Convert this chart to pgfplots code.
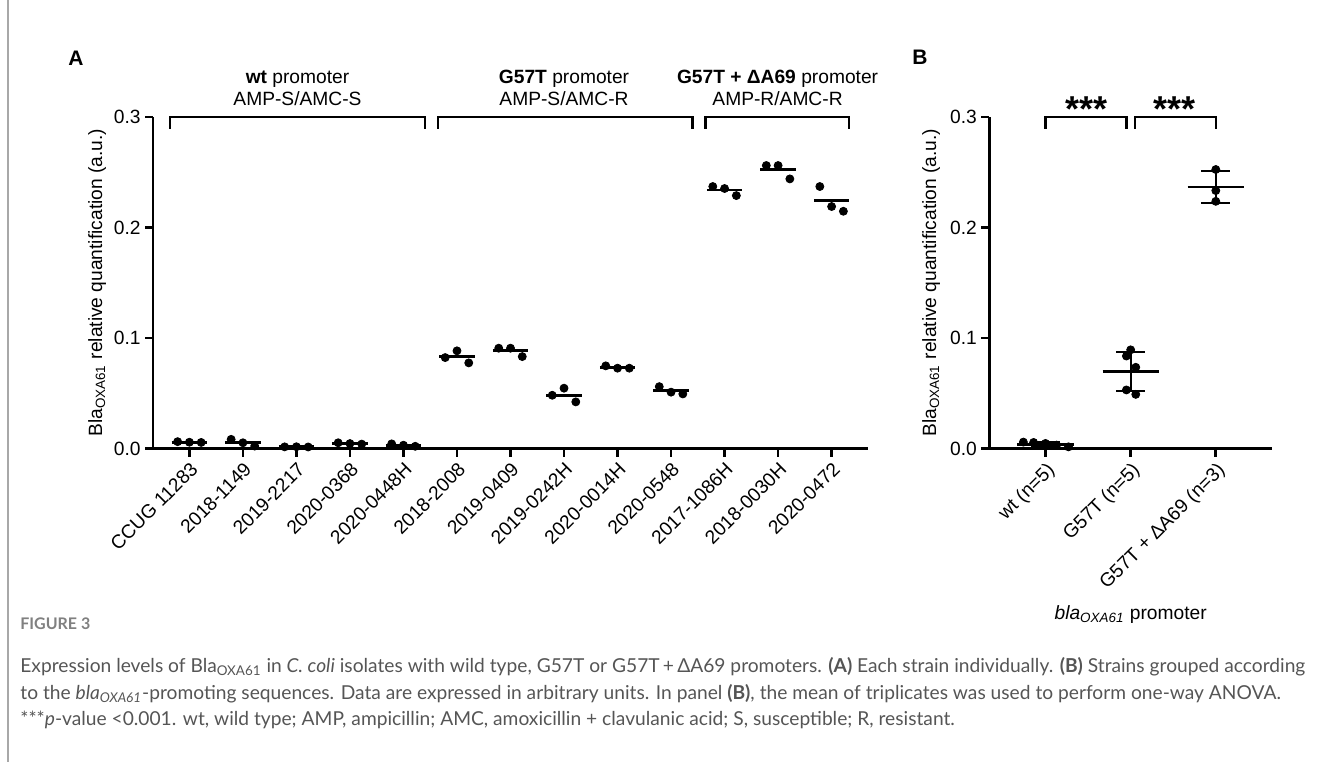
\documentclass[border=0pt]{standalone}
\usepackage{graphicx}
\usepackage{pgfplots}
\pgfplotsset{compat=1.18}
\usepackage{fontspec}
\setmainfont{Liberation Sans}
\newfontfamily\capfont{Lato}
\definecolor{capgray}{HTML}{555555}
\definecolor{figgray}{HTML}{808080}
\definecolor{bordergray}{HTML}{A8A8A8}
\newlength\capw
\newcommand\bla{Bla\textsubscript{OXA61}}
\newcommand\lfont{\fontsize{9.6}{11}\selectfont}
\newcommand\capsize{\fontsize{9.6}{10}\selectfont}
\newcommand\lineone{Expression levels of Bla\textsubscript{OXA61} in \textit{C. coli} isolates with wild type, G57T or G57T\,+\,ΔA69 promoters. \textbf{(A)} Each strain individually. \textbf{(B)} Strains grouped according}

\pgfplotsset{
  panel/.style={
    scale only axis,
    axis lines=left,
    axis line style={-, line width=1.4pt},
    ymin=0, ymax=0.3,
    ytick={0,0.1,0.2,0.3},
    /pgf/number format/assume math mode=true,
    yticklabel style={/pgf/number format/fixed, /pgf/number format/fixed zerofill, /pgf/number format/precision=1, font=\lfont, inner sep=2pt},
    tick align=outside,
    major tick length=4pt,
    every tick/.style={line width=1.4pt, black},
    xticklabel style={rotate=45, anchor=north east, font=\lfont, inner sep=1.5pt},
    ylabel style={font=\lfont, anchor=center},
    clip=false,
  }
}

\begin{document}%
\settowidth\capw{\capfont\capsize\lineone}%
\pgfmathsetmacro\capfac{642.5/\capw}%
\begin{tikzpicture}
\useasboundingbox (0,0) rectangle (660.5pt,-381pt);
\draw[bordergray, line width=0.8pt] (4pt,0) -- (4pt,-381pt);

% ---------------- Panel A ----------------
\node[font=\fontsize{10.5}{12}\selectfont\bfseries] at (38pt,-29pt) {A};
\begin{axis}[panel,
  at={(76.5pt,-224.25pt)}, anchor=south west,
  width=357.5pt, height=165.75pt,
  xmin=-0.68, xmax=12.68,
  xtick={0,...,12},
  xticklabels={CCUG 11283,2018-1149,2019-2217,2020-0368,2020-0448H,2018-2008,2019-0409,2019-0242H,2020-0014H,2020-0548,2017-1086H,2018-0030H,2020-0472},
  ylabel={\bla{} relative quantification (a.u.)},
  ylabel style={at={(axis description cs:-0.078,0.5)}},
]
\addplot[only marks, mark=*, mark size=2pt, black] table {
x y
-0.22 0.0062
0.00 0.0057
0.22 0.0055
0.78 0.0083
1.00 0.0052
1.22 0.0022
1.78 0.0015
2.00 0.0016
2.22 0.0014
2.78 0.0052
3.00 0.0045
3.22 0.0040
3.78 0.0042
4.00 0.0030
4.22 0.0020
4.78 0.0823
5.00 0.0884
5.22 0.0775
5.78 0.0908
6.00 0.0908
6.22 0.0832
6.78 0.0482
7.00 0.0546
7.22 0.0422
7.78 0.0748
8.00 0.0727
8.22 0.0727
8.78 0.0560
9.00 0.0510
9.22 0.0494
9.78 0.2371
10.00 0.2353
10.22 0.2289
10.78 0.2561
11.00 0.2561
11.22 0.2440
11.78 0.2371
12.00 0.2190
12.22 0.2147
};
\addplot[black, line width=1.4pt, unbounded coords=jump] table {
x y
-0.33 0.0056
0.33 0.0056
nan nan
0.67 0.0053
1.33 0.0053
nan nan
1.67 0.0015
2.33 0.0015
nan nan
2.67 0.0046
3.33 0.0046
nan nan
3.67 0.0030
4.33 0.0030
nan nan
4.67 0.0830
5.33 0.0830
nan nan
5.67 0.0884
6.33 0.0884
nan nan
6.67 0.0483
7.33 0.0483
nan nan
7.67 0.0736
8.33 0.0736
nan nan
8.67 0.0524
9.33 0.0524
nan nan
9.67 0.2340
10.33 0.2340
nan nan
10.67 0.2522
11.33 0.2522
nan nan
11.67 0.2244
12.33 0.2244
};
% group brackets
\draw[line width=1.2pt] (axis cs:-0.36,0.2895) |- (axis cs:4.40,0.3) -- (axis cs:4.40,0.2895);
\draw[line width=1.2pt] (axis cs:4.64,0.2895) |- (axis cs:9.40,0.3) -- (axis cs:9.40,0.2895);
\draw[line width=1.2pt] (axis cs:9.64,0.2895) |- (axis cs:12.33,0.3) -- (axis cs:12.33,0.2895);
\node[font=\lfont] at (axis cs:2.02,0.3345) {\textbf{wt} promoter};
\node[font=\lfont] at (axis cs:2.02,0.3170) {AMP-S/AMC-S};
\node[font=\lfont] at (axis cs:7.0,0.3345) {\textbf{G57T} promoter};
\node[font=\lfont] at (axis cs:7.0,0.3170) {AMP-S/AMC-R};
\node[font=\lfont] at (axis cs:10.99,0.3345) {\textbf{G57T + ΔA69} promoter};
\node[font=\lfont] at (axis cs:10.99,0.3170) {AMP-R/AMC-R};
\end{axis}

% ---------------- Panel B ----------------
\node[font=\fontsize{10.5}{12}\selectfont\bfseries] at (460pt,-28.5pt) {B};
\begin{axis}[panel,
  at={(494.65pt,-224.25pt)}, anchor=south west,
  width=141.35pt, height=165.75pt,
  xmin=-0.66, xmax=2.66,
  xtick={0,1,2},
  xticklabels={wt (n=5),G57T (n=5),G57T + ΔA69 (n=3)},
  ylabel={\bla{} relative quantification (a.u.)},
  ylabel style={at={(axis description cs:-0.206,0.5)}},
  xlabel={\textit{bla}\textsubscript{\textit{OXA61}} promoter},
  xlabel style={at={(axis description cs:0.5,-0.502)}, anchor=center, font=\lfont},
]
\addplot[only marks, mark=*, mark size=2pt, black] table {
x y
-0.26 0.0058
-0.14 0.0055
0.00 0.0046
0.13 0.0031
0.27 0.0015
1.00 0.0893
0.95 0.0837
1.06 0.0735
0.95 0.0530
1.06 0.0490
2.00 0.2525
2.00 0.2334
2.00 0.2237
};
\addplot[black, line width=1.4pt, unbounded coords=jump] table {
x y
-0.33 0.0038
0.33 0.0038
nan nan
0.67 0.0698
1.33 0.0698
nan nan
1.67 0.2367
2.33 0.2367
};
\addplot[black, line width=0.9pt, unbounded coords=jump] table {
x y
0 0.0022
0 0.0056
nan nan
-0.17 0.0022
0.17 0.0022
nan nan
-0.17 0.0056
0.17 0.0056
nan nan
1 0.0518
1 0.0873
nan nan
0.83 0.0518
1.17 0.0518
nan nan
0.83 0.0873
1.17 0.0873
nan nan
2 0.2223
2 0.2508
nan nan
1.83 0.2223
2.17 0.2223
nan nan
1.83 0.2508
2.17 0.2508
};
\draw[line width=1.2pt] (axis cs:0,0.2892) |- (axis cs:0.953,0.3) -- (axis cs:0.953,0.2892);
\draw[line width=1.2pt] (axis cs:1.05,0.2892) |- (axis cs:2.0,0.3) -- (axis cs:2.0,0.2892);
\node[font=\fontsize{18}{18}\selectfont\bfseries, anchor=base, inner sep=0] at (axis cs:0.48,0.2955) {***};
\node[font=\fontsize{18}{18}\selectfont\bfseries, anchor=base, inner sep=0] at (axis cs:1.52,0.2955) {***};
\end{axis}

% ---------------- Caption ----------------
\node[anchor=base west, inner sep=0, text=figgray] at (10pt,-314.5pt) {\scalebox{\capfac}[1]{\capfont\fontsize{8}{9}\selectfont\bfseries FIGURE 3}};
\node[anchor=base west, inner sep=0, text=capgray] at (10pt,-336pt) {\scalebox{\capfac}[1]{\capfont\capsize\lineone}};
\node[anchor=base west, inner sep=0, text=capgray] at (10pt,-349.5pt) {\scalebox{\capfac}[1]{\capfont\capsize to the \textit{bla}\textsubscript{\textit{OXA61}}-promoting sequences. Data are expressed in arbitrary units. In panel \textbf{(B)}, the mean of triplicates was used to perform one-way ANOVA.}};
\node[anchor=base west, inner sep=0, text=capgray] at (10pt,-362.5pt) {\scalebox{\capfac}[1]{\capfont\capsize ***\textit{p}-value <0.001. wt, wild type; AMP, ampicillin; AMC, amoxicillin + clavulanic acid; S, susceptible; R, resistant.}};
\end{tikzpicture}%
\end{document}
